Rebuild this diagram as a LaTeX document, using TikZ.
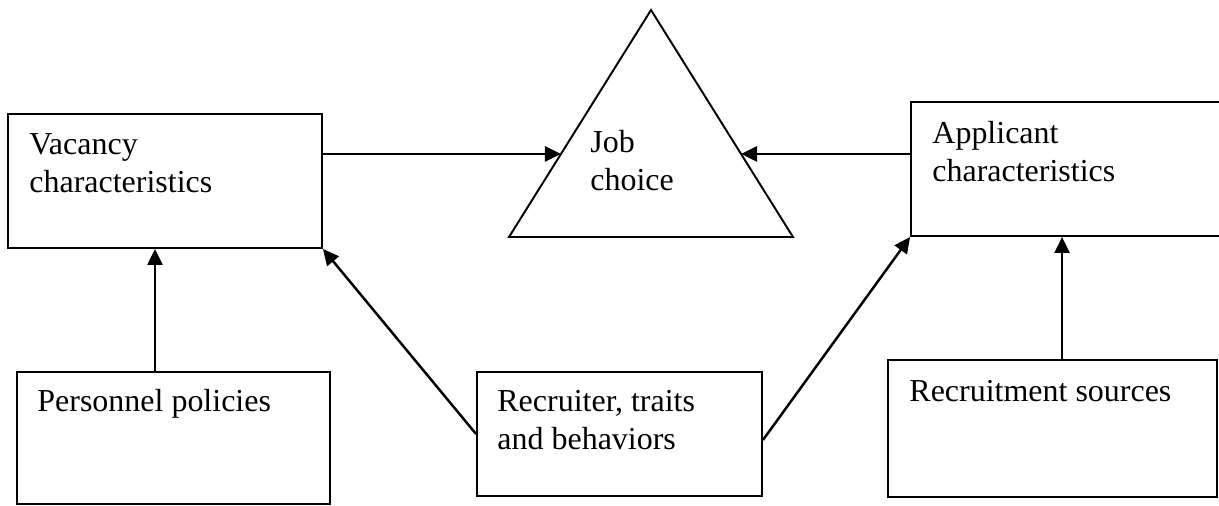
\documentclass[tikz,border=0pt]{standalone}
\usepackage{fontspec}
\setmainfont{Liberation Serif}
\usetikzlibrary{arrows.meta,calc}

\colorlet{ink}{black}

\begin{document}
\begin{tikzpicture}[x=0.02cm, y=-0.02cm, every node/.style={font=\fontsize{18.2}{21.5}\selectfont}]
  \useasboundingbox (0, 0) rectangle (1219, 505);
  \clip (0, 0) rectangle (1219, 505);
  \draw (165, 181)    node[draw, line width=1.1pt, color=ink, minimum width=6.28cm, minimum height=2.68cm] (vac) {};
  \draw (1071, 169)   node[draw, line width=1.1pt, color=ink, minimum width=6.4cm, minimum height=2.68cm] (app) {};
  \draw (173.5, 438)  node[draw, line width=1.1pt, color=ink, minimum width=6.26cm, minimum height=2.64cm] (pers) {};
  \draw (619.5, 434)  node[draw, line width=1.1pt, color=ink, minimum width=5.7cm, minimum height=2.48cm] (recr) {};
  \draw (1052.5, 428.5) node[draw, line width=1.1pt, color=ink, minimum width=6.58cm, minimum height=2.74cm] (src) {};
  \draw[line width=1.1pt, color=ink] (651, 10) coordinate (apex) -- (793, 237) coordinate (br)
    -- (509, 237) coordinate (bl) -- cycle;
  \coordinate (jl) at ($(bl)!0.366!(apex)$);
  \coordinate (jr) at ($(br)!0.366!(apex)$);
  \coordinate (vacin) at ([xshift=-0.2cm]vac.south);
  \coordinate (appin) at ([xshift=3.04cm]app.south west);
  % base anchor sits on the last line of a two-line node
  \node[anchor=base west, align=left, inner sep=0] (vactxt) at ([shift={(0.44cm,-1.58cm)}]vac.north west) {Vacancy\\characteristics};
  \node[anchor=base west, align=left, inner sep=0] (apptxt) at ([shift={(0.44cm,-1.6cm)}]app.north west) {Applicant\\characteristics};
  \node[anchor=base west, align=left, inner sep=0] (perstxt) at ([shift={(0.42cm,-0.8cm)}]pers.north west) {Personnel policies};
  \node[anchor=base west, align=left, inner sep=0] (recrtxt) at ([shift={(0.42cm,-1.56cm)}]recr.north west) {Recruiter, traits\\and behaviors};
  \node[anchor=base west, align=left, inner sep=0] (srctxt) at ([shift={(0.44cm,-0.84cm)}]src.north west) {Recruitment sources};
  \node[anchor=base west, align=left, inner sep=0] (job) at (590, 190) {Job\\choice};
  \draw[line width=1.4pt, color=ink, -{Triangle[length=0.32cm, width=0.3cm]}] (vac.east |- jl) -- (jl);
  \draw[line width=1.4pt, color=ink, -{Triangle[length=0.32cm, width=0.3cm]}] (app.west |- jr) -- (jr);
  \draw[line width=1.4pt, color=ink, -{Triangle[length=0.32cm, width=0.3cm]}] (pers.north -| vacin) -- (vacin);
  \draw[line width=1.4pt, color=ink, -{Triangle[length=0.32cm, width=0.3cm]}] (recr.west) -- (vac.south east);
  \draw[line width=1.4pt, color=ink, -{Triangle[length=0.32cm, width=0.3cm]}] ([yshift=-0.12cm]recr.east) -- (app.south west);
  \draw[line width=1.4pt, color=ink, -{Triangle[length=0.32cm, width=0.3cm]}] (src.north -| appin) -- (appin);
\end{tikzpicture}
\end{document}
